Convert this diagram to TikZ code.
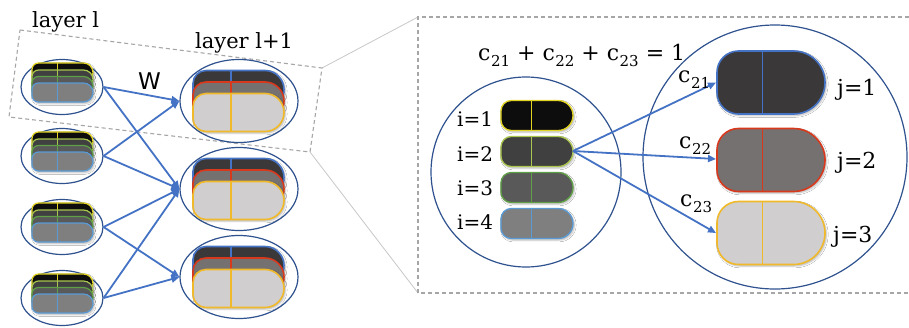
\documentclass[tikz,border=0pt]{standalone}
\usepackage{fontspec}
\setmainfont{DejaVu Serif}
\newfontfamily\wfont{DejaVu Sans}
\usetikzlibrary{shapes.geometric,arrows.meta,shadows.blur}
\definecolor{arrowblue}{HTML}{4472C4}
\definecolor{ellblue}{HTML}{2F528F}
\definecolor{dashgray}{HTML}{A6A6A6}
\definecolor{linkgray}{HTML}{C8C8C8}
\definecolor{pBlack}{HTML}{0D0D0D}
\definecolor{pYellow}{HTML}{E2D422}
\definecolor{pDark}{HTML}{404040}
\definecolor{pLGreen}{HTML}{A9C64E}
\definecolor{pMid}{HTML}{595959}
\definecolor{pGreen}{HTML}{5FA046}
\definecolor{pGray}{HTML}{7F7F7F}
\definecolor{pLBlue}{HTML}{5B9BD5}
\definecolor{qDark}{HTML}{3A3838}
\definecolor{qBlue}{HTML}{4472C4}
\definecolor{qMid}{HTML}{767171}
\definecolor{qRed}{HTML}{D8391C}
\definecolor{qLight}{HTML}{D0CECE}
\definecolor{qGold}{HTML}{F0B92A}
\tikzset{
  ell/.style={draw=ellblue, line width=1.2pt, ellipse, inner sep=0pt},
  conn/.style={draw=arrowblue, line width=1.8pt, -{Triangle[length=8pt,width=7pt]}},
  boxdash/.style={draw=dashgray, line width=1.1pt, dash pattern=on 4pt off 3pt},
  link/.style={draw=linkgray, line width=0.8pt},
  pillshadow/.style={blur shadow={shadow xshift=1.3pt, shadow yshift=-1.5pt, shadow blur radius=1.8pt, shadow opacity=30}},
  lbl/.style={inner sep=0pt, anchor=base west},
}
% #1 left x, #2 centre y, #3 width, #4 height, #5 fill, #6 stroke, #7 line width
\newcommand\mypill[7]{%
  \pgfmathsetmacro\pT{#2-#4/2}%
  \pgfmathsetmacro\pB{#2+#4/2}%
  \pgfmathsetmacro\pR{#4*0.34}%
  \pgfmathsetmacro\pXR{#1+#3-#4/2}%
  \pgfmathsetmacro\pD{#1+0.42*#3}%
  \pgfmathsetmacro\pH{#4/2}%
  \path[pillshadow, fill=#5, draw=#6, line width=#7]
    (\pXR,\pT) -- ({#1+\pR},\pT) arc[start angle=270,end angle=180,radius=\pR]
    -- (#1,{\pB-\pR}) arc[start angle=180,end angle=90,radius=\pR]
    -- (\pXR,\pB) arc[start angle=90,end angle=-90,radius=\pH] -- cycle;
  \draw[draw=#6, line width=#7] (\pD,\pT) -- (\pD,\pB);
}
\newcommand\smallstack[1]{%
  \mypill{32}{#1-14.5}{61}{19}{pBlack}{pYellow}{1.2pt}
  \mypill{32}{#1-7.5}{61}{19}{pDark}{pLGreen}{1.2pt}
  \mypill{32}{#1-1}{61}{19}{pMid}{pGreen}{1.2pt}
  \mypill{32}{#1+5.5}{61}{19}{pGray}{pLBlue}{1.2pt}
}
\newcommand\bigstack[1]{%
  \mypill{193}{#1-11.5}{91}{38}{qDark}{qBlue}{1.6pt}
  \mypill{193}{#1}{91}{38}{qMid}{qRed}{1.6pt}
  \mypill{193}{#1+11.5}{91}{38}{qLight}{qGold}{1.6pt}
}
\newcommand\csub[1]{c\kern0.5pt\raisebox{-0.28em}{\fontsize{15}{15}\selectfont #1}}
\begin{document}
\begin{tikzpicture}[x=1pt,y=-1pt]
\useasboundingbox (0,0) rectangle (909,327);
\fill[white] (0,0) rectangle (909,327);

% dashed selection box (left) and zoom box (right)
\coordinate (sTL) at (20,30);
\coordinate (sTR) at (322,68);
\coordinate (sBR) at (310,152);
\coordinate (sBL) at (9,117);
\coordinate (zTL) at (418,17);
\coordinate (zBL) at (418,293);
\coordinate (zTR) at (909,17);
\coordinate (zBR) at (909,293);
\draw[link] (sTR) -- (zTL);
\draw[link] (sBR) -- (zBL);
\draw[boxdash] (sTL) -- (sTR) -- (sBR) -- (sBL) -- cycle;
\draw[boxdash] (zTR) -- (zTL) -- (zBL) -- (zBR);

% layer l ellipses
\node[ell, minimum width=82pt, minimum height=55pt] (L1) at (62,87) {};
\node[ell, minimum width=82pt, minimum height=55pt] (L2) at (62,156) {};
\node[ell, minimum width=82pt, minimum height=55pt] (L3) at (62,227) {};
\node[ell, minimum width=82pt, minimum height=55pt] (L4) at (62,298) {};
\smallstack{87}
\smallstack{156}
\smallstack{227}
\smallstack{298}

% layer l+1 ellipses
\node[ell, minimum width=118pt, minimum height=83pt] (R1) at (239,101) {};
\node[ell, minimum width=118pt, minimum height=83pt] (R2) at (239,189) {};
\node[ell, minimum width=118pt, minimum height=83pt] (R3) at (239,277) {};
\bigstack{101}
\bigstack{189}
\bigstack{277}

% connections
\draw[conn] (L1.east) -- (R1.west);
\draw[conn] (L1.east) -- (R2.west);
\draw[conn] (L2.east) -- (R1.west);
\draw[conn] (L2.east) -- (R2.west);
\draw[conn] (L3.east) -- (R2.west);
\draw[conn] (L3.east) -- (R3.west);
\draw[conn] (L4.east) -- (R2.west);
\draw[conn] (L4.east) -- (R3.west);

% labels left
\node[lbl, font=\fontsize{21}{21}\selectfont] (tl) at (32,27) {layer l};
\node[lbl, font=\fontsize{21}{21}\selectfont] (tl1) at (195,48) {layer l+1};
\node[lbl, font=\wfont\fontsize{23}{23}\selectfont] (tw) at (138,89) {W};

% zoomed view
\node[ell, circle, minimum size=190pt] (A) at (526,172) {};
\node[ell, circle, minimum size=264pt] (B) at (775,157) {};

\mypill{501}{115.5}{72}{30}{pBlack}{pYellow}{1.3pt}
\mypill{501}{151.5}{72}{30}{pDark}{pLGreen}{1.3pt}
\mypill{501}{187.5}{72}{30}{pMid}{pGreen}{1.3pt}
\mypill{501}{223.5}{72}{30}{pGray}{pLBlue}{1.3pt}

\mypill{717}{82.5}{108}{63}{qDark}{qBlue}{1.6pt}
\mypill{717}{160}{108}{63}{qMid}{qRed}{1.6pt}
\mypill{717}{233}{108}{63}{qLight}{qGold}{1.6pt}

\coordinate (i2) at (573,151);
\coordinate (j1) at (716,82.5);
\coordinate (j2) at (716,159);
\coordinate (j3) at (716,233);
\draw[conn] (i2) -- (j1);
\draw[conn] (i2) -- (j2);
\draw[conn] (i2) -- (j3);

\node[lbl, font=\fontsize{20}{20}\selectfont] (ti1) at (457,126) {i=1};
\node[lbl, font=\fontsize{20}{20}\selectfont] (ti2) at (457,161) {i=2};
\node[lbl, font=\fontsize{20}{20}\selectfont] (ti3) at (457,195) {i=3};
\node[lbl, font=\fontsize{20}{20}\selectfont] (ti4) at (457,229) {i=4};

\node[lbl, font=\fontsize{22}{22}\selectfont] (tj1) at (837,95) {j=1};
\node[lbl, font=\fontsize{22}{22}\selectfont] (tj2) at (837,168) {j=2};
\node[lbl, font=\fontsize{22}{22}\selectfont] (tj3) at (833,242) {j=3};

\node[lbl, font=\fontsize{22}{22}\selectfont] (c21) at (678,82) {\csub{21}};
\node[lbl, font=\fontsize{22}{22}\selectfont] (c22) at (679,148) {\csub{22}};
\node[lbl, font=\fontsize{22}{22}\selectfont] (c23) at (680,206) {\csub{23}};

\node[lbl, font=\fontsize{22}{22}\selectfont] (eq) at (478,60) {\csub{21}\ +\ \csub{22}\ +\ \csub{23}\ =\ 1};
\end{tikzpicture}
\end{document}
